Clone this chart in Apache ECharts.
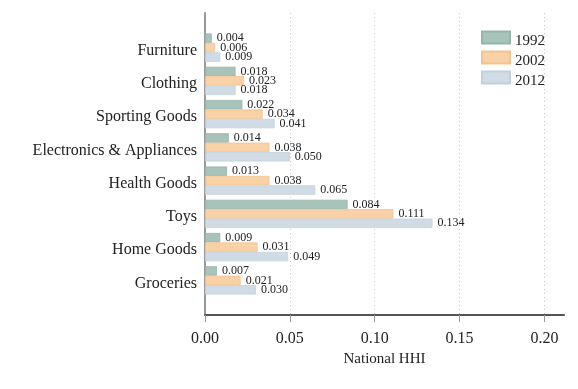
<!DOCTYPE html>
<html>
<head>
<meta charset="utf-8">
<script src="https://cdn.jsdelivr.net/npm/echarts@6/dist/echarts.min.js"></script>
<style>
  html, body { margin: 0; padding: 0; background: #fff; }
  #hhiChart { width: 578px; height: 389px; }
</style>
</head>
<body>
<div id="hhiChart"></div>
<script>
const categories = ["Furniture", "Clothing", "Sporting Goods", "Electronics & Appliances",
  "Health Goods", "Toys", "Home Goods", "Groceries"];
const years = ["1992", "2002", "2012"];
const hhi1992 = [0.004, 0.018, 0.022, 0.014, 0.013, 0.084, 0.009, 0.007];
const hhi2002 = [0.006, 0.023, 0.034, 0.038, 0.038, 0.111, 0.031, 0.021];
const hhi2012 = [0.009, 0.018, 0.041, 0.050, 0.065, 0.134, 0.049, 0.030];
const xTicks = [0, 0.05, 0.1, 0.15, 0.2];

const serif = "Liberation Serif";
const colors = ["#a7c3ba", "#f9d1a6", "#d0dbe5"];
const borders = ["#94b5ab", "#f3c491", "#c2d0dc"];

let chart = echarts.init(document.getElementById("hhiChart"));

function makeSeries(name, data, i) {
  return {
    name: name,
    type: "bar",
    xAxisIndex: 1,
    yAxisIndex: 1,
    data: data,
    barGap: "0%",
    barCategoryGap: "15%",
    itemStyle: { color: colors[i], borderColor: borders[i], borderWidth: 0.8 },
    label: {
      show: true,
      position: "right",
      distance: 5,
      fontFamily: serif,
      fontSize: 12,
      color: "#222",
      formatter: (p) => p.value.toFixed(3),
    },
  };
}

let option = {
  animation: false,
  textStyle: { fontFamily: serif },
  legend: {
    data: years,
    orient: "vertical",
    icon: "rect",
    right: 28,
    top: 21,
    itemWidth: 28,
    itemHeight: 12,
    itemGap: -3,
    formatter: (n) => "{t|" + n + "}",
    textStyle: {
      rich: {
        t: { fontFamily: serif, fontSize: 15, color: "#222", lineHeight: 12, padding: [8, 0, 0, 0] },
      },
    },
  },
  grid: [
    // frame: axes, ticks and dotted grid lines
    { left: 205, top: 13, right: 14, bottom: 74 },
    // bars
    { left: 205, top: 31, right: 14, bottom: 92 },
  ],
  xAxis: [
    {
      gridIndex: 0,
      type: "value",
      min: 0,
      max: 0.2115,
      interval: 0.05,
      name: "National HHI",
      nameLocation: "middle",
      nameGap: 32,
      nameTextStyle: { fontFamily: serif, fontSize: 15, color: "#222" },
      axisLine: { show: true, lineStyle: { color: "#555", width: 2 } },
      axisTick: { show: true, length: 7, lineStyle: { color: "#999" },
        customValues: xTicks },
      axisLabel: {
        margin: 16,
        fontFamily: serif,
        fontSize: 16,
        color: "#222",
        customValues: xTicks,
        formatter: (v) => v.toFixed(2),
      },
      splitLine: {
        show: true,
        lineStyle: { color: "#c8c8c8", type: [1, 3], width: 1 },
      },
    },
    {
      gridIndex: 1,
      type: "value",
      min: 0,
      max: 0.2115,
      show: false,
    },
  ],
  yAxis: [
    {
      gridIndex: 0,
      type: "value",
      axisLine: { show: true, lineStyle: { color: "#999", width: 2 } },
      axisTick: { show: false },
      axisLabel: { show: false },
      splitLine: { show: false },
    },
    {
      gridIndex: 1,
      type: "category",
      inverse: true,
      data: categories,
      axisLine: { show: false },
      axisTick: { show: false },
      axisLabel: {
        margin: 8,
        formatter: (v) => "{c|" + v + "}",
        rich: {
          c: { padding: [6, 0, 0, 0], fontFamily: serif, fontSize: 16, color: "#222" },
        },
      },
    },
  ],
  series: [
    makeSeries(years[0], hhi1992, 0),
    makeSeries(years[1], hhi2002, 1),
    makeSeries(years[2], hhi2012, 2),
  ],
};
chart.setOption(option);
</script>
</body>
</html>
